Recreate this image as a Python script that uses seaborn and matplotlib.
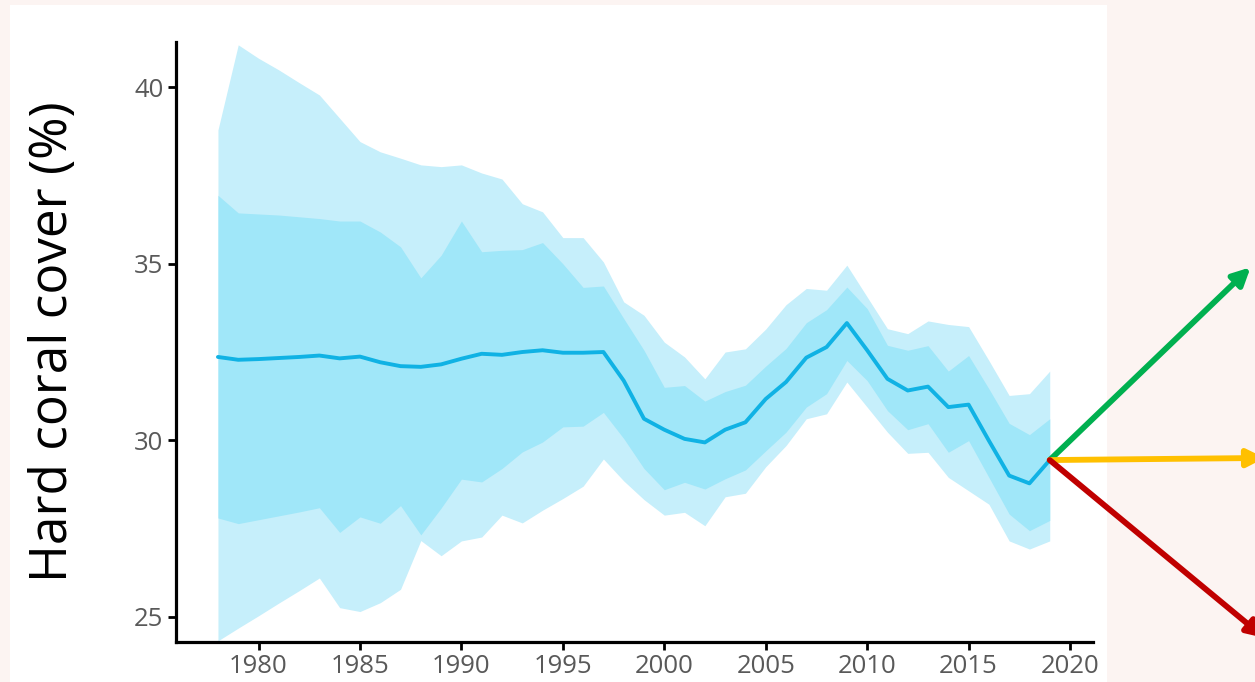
import numpy as np
import pandas as pd
import seaborn as sns
import matplotlib.pyplot as plt
from matplotlib.patches import Rectangle

# 연도별 산호 피도 (평균, 안쪽/바깥쪽 신뢰구간)
years = list(range(1978, 2020))

mean_cover = [32.36, 32.28, 32.30, 32.33, 32.36, 32.40, 32.32, 32.37, 32.21, 32.10,
              32.08, 32.15, 32.31, 32.45, 32.42, 32.50, 32.55, 32.48, 32.48, 32.50,
              31.69, 30.61, 30.30, 30.04, 29.94, 30.30, 30.51, 31.17, 31.65, 32.34,
              32.64, 33.32, 32.55, 31.74, 31.41, 31.52, 30.94, 31.01, 29.99, 29.00,
              28.78, 29.44]

outer_upper = [38.79, 41.20, 40.82, 40.49, 40.13, 39.78, 39.12, 38.46, 38.17, 37.99,
               37.80, 37.75, 37.80, 37.57, 37.40, 36.70, 36.47, 35.74, 35.74, 35.05,
               33.92, 33.54, 32.78, 32.36, 31.74, 32.50, 32.59, 33.15, 33.84, 34.30,
               34.25, 34.96, 34.06, 33.16, 33.02, 33.38, 33.28, 33.22, 32.26, 31.27,
               31.32, 31.96]

inner_upper = [36.94, 36.44, 36.41, 36.38, 36.33, 36.28, 36.21, 36.21, 35.90, 35.48,
               34.60, 35.24, 36.21, 35.34, 35.38, 35.40, 35.60, 35.00, 34.33, 34.37,
               33.45, 32.55, 31.50, 31.55, 31.11, 31.38, 31.56, 32.10, 32.60, 33.33,
               33.70, 34.34, 33.73, 32.69, 32.55, 32.68, 31.96, 32.40, 31.46, 30.48,
               30.16, 30.61]

inner_lower = [27.80, 27.64, 27.75, 27.86, 27.97, 28.09, 27.39, 27.83, 27.65, 28.15,
               27.32, 28.08, 28.90, 28.82, 29.20, 29.67, 29.95, 30.38, 30.40, 30.79,
               30.05, 29.20, 28.60, 28.81, 28.62, 28.91, 29.16, 29.70, 30.23, 30.94,
               31.32, 32.26, 31.69, 30.84, 30.30, 30.47, 29.66, 29.99, 28.95, 27.91,
               27.44, 27.73]

outer_lower = [24.32, 24.68, 25.03, 25.39, 25.74, 26.10, 25.26, 25.15, 25.40, 25.78,
               27.16, 26.73, 27.15, 27.26, 27.88, 27.66, 28.02, 28.35, 28.70, 29.47,
               28.85, 28.32, 27.88, 27.96, 27.58, 28.40, 28.50, 29.25, 29.85, 30.61,
               30.75, 31.65, 30.94, 30.23, 29.63, 29.66, 28.95, 28.57, 28.19, 27.15,
               26.92, 27.15]

# 시나리오 화살표 (끝점: 연도, 피도)
scenario_end_year = [2028.9, 2029.6, 2029.6]
scenario_end_cover = [34.9, 29.5, 24.4]
scenario_colors = ['#00b050', '#ffc000', '#c00000']

df = pd.DataFrame({'year': years, 'mean': mean_cover,
                   'outer_up': outer_upper, 'inner_up': inner_upper,
                   'inner_lo': inner_lower, 'outer_lo': outer_lower})

sns.set_theme(style='ticks')
plt.rcParams['font.family'] = ['Open Sans', 'DejaVu Sans']

fig = plt.figure(figsize=(12.55, 6.82), dpi=100)
fig.patch.set_facecolor('#fcf4f2')
# 흰 배경 판 (축 뒤에)
fig.patches.append(Rectangle((10 / 1255, 0), 1097 / 1255, 1 - 5 / 682,
                             transform=fig.transFigure, facecolor='white',
                             edgecolor='none', zorder=-5))

ax = fig.add_axes([0.1402, 0.0588, 0.7310, 0.8796])
ax.set_facecolor('none')
ax.set_zorder(2)

ax.fill_between(df['year'], df['outer_lo'], df['outer_up'], color='#c6effb', lw=0)
ax.fill_between(df['year'], df['inner_lo'], df['inner_up'], color='#a0e7f9', lw=0)
sns.lineplot(data=df, x='year', y='mean', color='#10b2e4', lw=2.8, ax=ax)

# 마지막 점에서 시나리오 화살표
x0, y0 = years[-1], mean_cover[-1]
for xe, ye, c in zip(scenario_end_year, scenario_end_cover, scenario_colors):
    ax.annotate('', xy=(xe, ye), xytext=(x0, y0), annotation_clip=False,
                arrowprops=dict(arrowstyle='-|>', color=c, lw=4.2,
                                mutation_scale=26, shrinkA=0, shrinkB=0))

ax.set_xlim(1975.93, 2021.15)
ax.set_ylim(24.29, 41.28)
ax.set_xticks([1980, 1985, 1990, 1995, 2000, 2005, 2010, 2015, 2020])
ax.set_yticks([25, 30, 35, 40])
ax.set_xlabel('')
ax.set_ylabel('Hard coral cover (%)', fontsize=37, color='black', labelpad=40)
ax.tick_params(axis='both', labelsize=18.5, labelcolor='#595959', color='black',
               length=6, width=2.0, pad=3)
for s in ['left', 'bottom']:
    ax.spines[s].set_linewidth(2.3)
    ax.spines[s].set_color('black')
sns.despine(ax=ax)

fig.savefig('out.png', dpi=100, facecolor=fig.get_facecolor())
